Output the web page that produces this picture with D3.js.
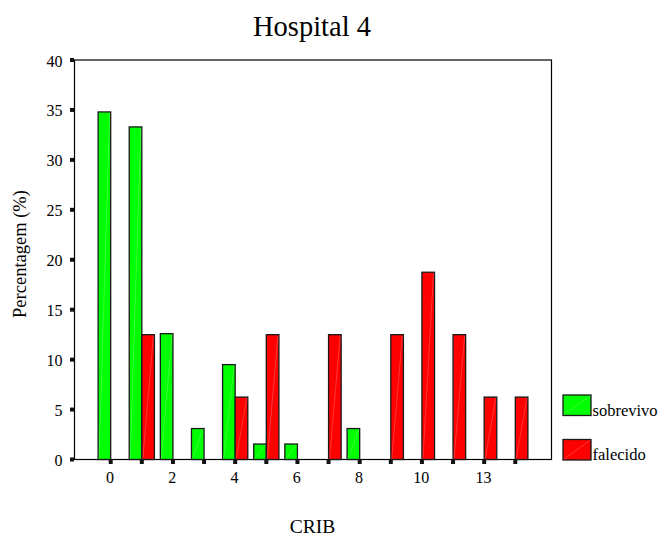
<!DOCTYPE html>
<html>
<head>
<meta charset="utf-8">
<script src="https://cdn.jsdelivr.net/npm/d3@7"></script>
<style>
  html, body { margin: 0; padding: 0; background: #fff; }
  svg { display: block; font-family: "Liberation Serif", "Times New Roman", serif; }
</style>
</head>
<body>
<svg id="chart" width="661" height="537"></svg>
<script>
// CRIB score categories (only every other one gets a label)
const categories = ["0", "1", "2", "3", "4", "5", "6", "7", "8", "9", "10", "12", "13", "14"];
const tickLabels = ["0", "", "2", "", "4", "", "6", "", "8", "", "10", "", "13", ""];
// Percentage of patients per CRIB score, by outcome
const sobrevivo = [34.8, 33.3, 12.6, 3.1, 9.5, 1.55, 1.55, 0, 3.1, 0, 0, 0, 0, 0];
const falecido  = [0, 12.5, 0, 0, 6.25, 12.5, 0, 12.5, 0, 12.5, 18.75, 12.5, 6.25, 6.25];
const seriesNames = ["sobrevivo", "falecido"];
const seriesColors = ["#00ff00", "#ff0000"];
const yTicks = [0, 5, 10, 15, 20, 25, 30, 35, 40];

const svg = d3.select("#chart");
const plotLeft = 74.5, plotRight = 551.5, plotTop = 60, plotBottom = 459.5;

const x = d3.scalePoint().domain(categories).range([110.7, 515.3]);
const y = d3.scaleLinear().domain([0, 40]).range([plotBottom, plotTop]);
const barW = 12.6;

// frame of the plot area
svg.append("rect")
  .attr("x", plotLeft).attr("y", plotTop)
  .attr("width", plotRight - plotLeft).attr("height", plotBottom - plotTop)
  .attr("fill", "none").attr("stroke", "#000").attr("stroke-width", 1.2);

// bars: sobrevivo to the left of each tick, falecido to the right
const series = [sobrevivo, falecido];
series.forEach((vals, si) => {
  const g = svg.append("g");
  categories.forEach((c, i) => {
    const v = vals[i];
    const x0 = si === 0 ? x(c) - barW : x(c);
    const y0 = y(v);
    g.append("rect")
      .attr("x", x0).attr("y", y0)
      .attr("width", barW).attr("height", Math.max(0, plotBottom - y0))
      .attr("fill", seriesColors[si])
      .attr("stroke", "#1a1a1a").attr("stroke-width", 1.3);
    if (v > 0) {
      g.append("line")
        .attr("x1", x0 + 1).attr("y1", plotBottom - 1)
        .attr("x2", x0 + barW - 1).attr("y2", y0 + 1)
        .attr("stroke", "#fff").attr("stroke-opacity", 0.35).attr("stroke-width", 0.6);
    }
  });
});

// y axis ticks and labels
const yAxis = svg.append("g");
yTicks.forEach(t => {
  yAxis.append("rect")
    .attr("x", plotLeft - 4.5).attr("y", y(t) - 2)
    .attr("width", 4).attr("height", 4).attr("fill", "#111");
  yAxis.append("text")
    .attr("x", 62.5).attr("y", y(t) + 6.5)
    .attr("text-anchor", "end").attr("font-size", 16)
    .text(t);
});

// x axis ticks and labels
const xAxis = svg.append("g");
categories.forEach((c, i) => {
  xAxis.append("rect")
    .attr("x", x(c) - 2).attr("y", plotBottom + 0.5)
    .attr("width", 4).attr("height", 4).attr("fill", "#111");
  if (tickLabels[i]) {
    xAxis.append("text")
      .attr("x", x(c) - 0.8).attr("y", 482.5)
      .attr("text-anchor", "middle").attr("font-size", 16)
      .text(tickLabels[i]);
  }
});

// titles
svg.append("text")
  .attr("x", 312).attr("y", 35.5)
  .attr("text-anchor", "middle").attr("font-size", 28.5)
  .text("Hospital 4");
svg.append("text")
  .attr("x", 312.5).attr("y", 533)
  .attr("text-anchor", "middle").attr("font-size", 19.5)
  .text("CRIB");
svg.append("text")
  .attr("transform", "translate(26,254) rotate(-90)")
  .attr("text-anchor", "middle").attr("font-size", 18.5)
  .text("Percentagem (%)");

// legend
const legend = svg.append("g");
seriesNames.forEach((n, i) => {
  const ly = 395 + i * 44.5;
  legend.append("rect")
    .attr("x", 563).attr("y", ly)
    .attr("width", 28).attr("height", 20.5)
    .attr("fill", seriesColors[i]).attr("stroke", "#1a1a1a").attr("stroke-width", 1.3);
  legend.append("line")
    .attr("x1", 564).attr("y1", ly + 19.5).attr("x2", 590).attr("y2", ly + 1)
    .attr("stroke", "#fff").attr("stroke-opacity", 0.35).attr("stroke-width", 0.6);
  legend.append("text")
    .attr("x", 592.5).attr("y", ly + 20.5)
    .attr("font-size", 16.5)
    .text(n);
});
</script>
</body>
</html>
